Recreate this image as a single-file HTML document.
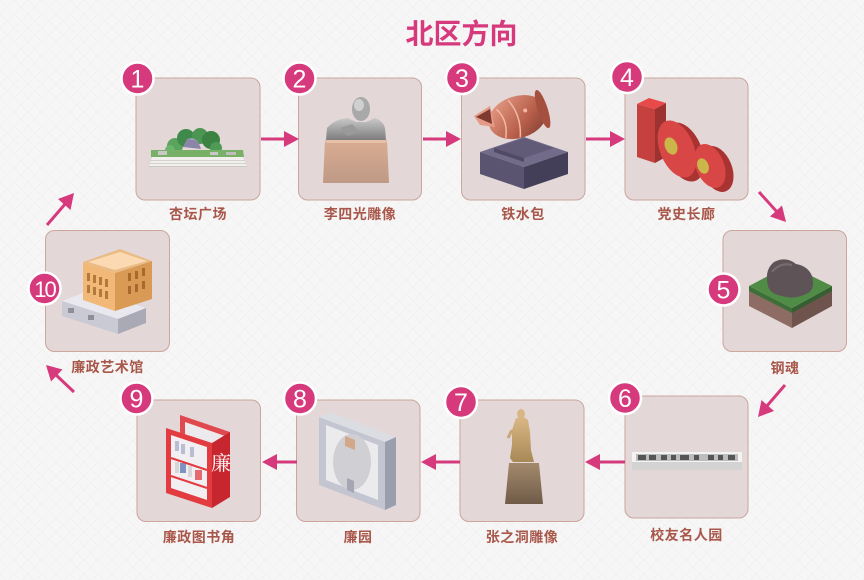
<!DOCTYPE html>
<html><head><meta charset="utf-8"><style>
html,body{margin:0;padding:0;background:#f7f6f6;}
svg{display:block;}
.lbl{font-family:"Liberation Sans","Noto Sans CJK SC",sans-serif;font-weight:bold;font-size:14px;fill:#a8574a;letter-spacing:0.5px;}
.num{font-family:"Liberation Sans",sans-serif;font-size:25px;fill:#fff;}
</style></head><body>
<svg width="864" height="580" viewBox="0 0 864 580" xmlns="http://www.w3.org/2000/svg">
<defs>
<pattern id="bgp" width="14" height="14" patternUnits="userSpaceOnUse"><path d="M0,0 L14,14 M14,0 L0,14" stroke="#efeded" stroke-width="0.6"/></pattern>
<linearGradient id="ped" x1="0" y1="0" x2="0" y2="1"><stop offset="0" stop-color="#d9ac92"/><stop offset="1" stop-color="#bf9a86"/></linearGradient>
<linearGradient id="bust" x1="0" y1="0" x2="0" y2="1"><stop offset="0" stop-color="#c9c9c9"/><stop offset="1" stop-color="#7d7d7d"/></linearGradient>
<linearGradient id="cop" x1="0" y1="0" x2="1" y2="1"><stop offset="0" stop-color="#eaa38c"/><stop offset="0.6" stop-color="#b8604c"/><stop offset="1" stop-color="#7c3a30"/></linearGradient>
<linearGradient id="brz" x1="0" y1="0" x2="0" y2="1"><stop offset="0" stop-color="#d9b884"/><stop offset="1" stop-color="#a98858"/></linearGradient>
<linearGradient id="ped7" x1="0" y1="0" x2="0" y2="1"><stop offset="0" stop-color="#a48a6c"/><stop offset="1" stop-color="#6f5b48"/></linearGradient>
</defs>
<rect width="864" height="580" fill="#f7f6f6"/>
<rect width="864" height="580" fill="url(#bgp)"/>

<text x="461.5" y="34" text-anchor="middle" dominant-baseline="central" font-family="'Liberation Sans','Noto Sans CJK SC',sans-serif" font-weight="bold" font-size="28" fill="#d6397c">北区方向</text>

<!-- cards -->
<g fill="#e3d7d7" stroke="#caa69d" stroke-width="1">
<rect x="136" y="78" width="124" height="122" rx="9"/>
<rect x="298.5" y="78" width="123" height="122" rx="9"/>
<rect x="461.5" y="78" width="123.5" height="122" rx="9"/>
<rect x="625" y="78" width="123" height="122" rx="9"/>
<rect x="723" y="230.5" width="123.5" height="121" rx="9"/>
<rect x="45.5" y="230.5" width="124" height="121" rx="9"/>
<rect x="137" y="400" width="123.5" height="121.5" rx="9"/>
<rect x="296.5" y="400" width="123.5" height="121.5" rx="9"/>
<rect x="460" y="400" width="124" height="121.5" rx="9"/>
<rect x="625" y="396" width="123" height="122" rx="9"/>
</g>

<!-- card1 杏坛广场 -->
<g>
<polygon points="152,157 243,157 247,167 149,167" fill="#f1f0ee"/>
<line x1="150" y1="160.5" x2="245" y2="160.5" stroke="#c9c8c3" stroke-width="0.8"/>
<line x1="149.5" y1="163.5" x2="246" y2="163.5" stroke="#c9c8c3" stroke-width="0.8"/>
<line x1="149" y1="166.5" x2="247" y2="166.5" stroke="#bdbcb7" stroke-width="0.8"/>
<circle cx="175" cy="146" r="8" fill="#5aa45e"/>
<circle cx="186" cy="138" r="9" fill="#3f8a4a"/>
<circle cx="200" cy="136" r="8" fill="#4c9552"/>
<circle cx="211" cy="140" r="9" fill="#3b8243"/>
<circle cx="216" cy="148" r="6" fill="#4f9a55"/>
<circle cx="170" cy="150" r="5" fill="#6db56b"/>
<polygon points="183,147 187,139 198,141 201,149" fill="#8b86a8"/>
<polygon points="187,139 192,138 198,141" fill="#a7a2c0"/>
<polygon points="151,150 243,150 244,157 151,157" fill="#78b068"/>
<rect x="158" y="151" width="9" height="4" fill="#c8c8c8"/>
<rect x="210" y="152" width="8" height="3" fill="#c8c8c8"/>
<rect x="226" y="152" width="10" height="3" fill="#bdbdbd"/>
</g>

<!-- card2 李四光雕像 -->
<g>
<polygon points="325,140 387,140 389,183 323,183" fill="url(#ped)"/>
<polygon points="325,140 387,140 386,143 326,143" fill="#e6c0a8"/>
<path d="M326,140 L327,128 Q335,119 348,118 L356,122 L366,122 L375,118 Q383,121 385,128 L386,140 Z" fill="url(#bust)"/>
<ellipse cx="361" cy="109" rx="9" ry="12" fill="#a9a9a9"/>
<ellipse cx="359" cy="105" rx="5" ry="6" fill="#d0d0d0"/>
<path d="M340,128 L352,124 L360,132 L348,136 Z" fill="#9a9a9a"/>
</g>

<!-- card3 铁水包 -->
<g>
<polygon points="480,152 524,137 568,152 524,167" fill="#726c8a"/>
<polygon points="480,152 524,167 524,189 480,174" fill="#5a5470"/>
<polygon points="524,167 568,152 568,174 524,189" fill="#433f58"/>
<polygon points="494,148 524,138 554,148 524,158" fill="#615b78"/>
<polygon points="494,148 524,158 524,162 494,152" fill="#504a66"/>
<g transform="rotate(-18 515 118)">
<ellipse cx="518" cy="118" rx="30" ry="21" fill="url(#cop)"/>
<ellipse cx="544" cy="118" rx="5" ry="20" fill="#a5503f"/>
<path d="M500,104 Q508,118 500,134" stroke="#f2b8a4" stroke-width="1.5" fill="none"/>
<path d="M514,99 Q522,118 514,138" stroke="#f2b8a4" stroke-width="1.5" fill="none"/>
<circle cx="527" cy="114" r="2" fill="#f2b8a4"/>
</g>
<polygon points="474,116 490,106 495,127 480,125" fill="#e59a86"/>
<polygon points="476,117 490,109 492,124" fill="#7e3a30"/>
</g>

<!-- card4 党史长廊 100 -->
<g>
<polygon points="637,104 649,98 666,103 655,109" fill="#e84a4a"/>
<polygon points="637,104 655,109 655,163 637,157" fill="#c4413f"/>
<polygon points="655,109 666,103 666,157 655,163" fill="#9d3331"/>
<ellipse cx="684" cy="152" rx="18" ry="31" transform="rotate(-22 684 152)" fill="#a93331"/>
<ellipse cx="677" cy="149" rx="17" ry="30" transform="rotate(-22 677 149)" fill="#d84746"/>
<ellipse cx="671" cy="146" rx="6" ry="9" transform="rotate(-22 671 146)" fill="#cbb64a"/>
<ellipse cx="717" cy="169" rx="15" ry="24" transform="rotate(-22 717 169)" fill="#a93331"/>
<ellipse cx="710" cy="166" rx="14" ry="23" transform="rotate(-22 710 166)" fill="#d84746"/>
<ellipse cx="703" cy="166" rx="5.5" ry="8" transform="rotate(-22 703 166)" fill="#cbb64a"/>
</g>

<!-- card5 钢魂 -->
<g>
<polygon points="749,290 792,312 792,328 749,306" fill="#8c6c63"/>
<polygon points="792,312 832,290 832,306 792,328" fill="#6f534d"/>
<polygon points="749,286 792,308 792,313 749,291" fill="#3f6f38"/>
<polygon points="792,308 832,286 832,291 792,313" fill="#355f30"/>
<polygon points="749,286 789,265 832,286 792,308" fill="#518c47"/>
<path d="M768,286 Q764,270 774,262 Q786,256 796,264 Q808,266 812,276 Q816,290 806,294 Q794,300 782,296 Q770,294 768,286 Z" fill="#5e5458"/>
<path d="M772,272 Q780,262 792,265" stroke="#776c70" stroke-width="2" fill="none"/>
</g>

<!-- card10 building -->
<g>
<polygon points="62,301 90,290 146,308 118,319" fill="#e8e8ee"/>
<polygon points="62,301 118,319 118,334 62,316" fill="#c9cad3"/>
<polygon points="118,319 146,308 146,323 118,334" fill="#a9aab6"/>
<rect x="68" y="308" width="6" height="5" fill="#8e8f9a"/>
<rect x="88" y="315" width="6" height="5" fill="#8e8f9a"/>
<polygon points="83,262 115,273 115,311 83,300" fill="#f1b877"/>
<polygon points="115,273 152,261 152,299 115,311" fill="#d99a55"/>
<polygon points="83,262 120,249 152,261 115,273" fill="#e9bb85"/>
<polygon points="88,262 120,252 147,261 115,270" fill="#fbd9b2"/>
<g fill="#b47a3c">
<rect x="87" y="273" width="3" height="8"/><rect x="93" y="275" width="3" height="8"/><rect x="99" y="277" width="3" height="8"/><rect x="105" y="279" width="3" height="8"/>
<rect x="87" y="285" width="3" height="8"/><rect x="93" y="287" width="3" height="8"/><rect x="99" y="289" width="3" height="8"/><rect x="105" y="291" width="3" height="8"/>
</g>
<g fill="#a86a2c">
<rect x="128" y="273" width="3" height="8"/><rect x="135" y="271" width="3" height="8"/><rect x="142" y="268" width="3" height="8"/>
<rect x="128" y="286" width="3" height="8"/><rect x="135" y="284" width="3" height="8"/><rect x="142" y="281" width="3" height="8"/>
</g>
</g>

<!-- card9 bookshelf -->
<g>
<polygon points="180,415 230,432 230,497 180,480" fill="#e04a4e"/>
<polygon points="185,422 225,436 225,490 185,476" fill="#eceaec"/>
<polygon points="166,428 212,443 212,508 166,493" fill="#e23b40"/>
<polygon points="171,435 207,447 207,500 171,488" fill="#f1eff1"/>
<polygon points="212,443 230,432 230,497 212,508" fill="#c8262e"/>
<g fill="#b9bcd3"><rect x="175" y="441" width="4" height="10"/><rect x="181" y="444" width="4" height="10"/><rect x="190" y="447" width="4" height="10"/></g>
<g fill="#d6d6d6"><rect x="175" y="462" width="4" height="11"/><rect x="188" y="466" width="4" height="11"/></g>
<rect x="180" y="463" width="6" height="10" fill="#7f93c0"/>
<rect x="195" y="470" width="7" height="10" fill="#e26a70"/>
<line x1="171" y1="458" x2="207" y2="470" stroke="#e23b40" stroke-width="2"/>
<line x1="171" y1="476" x2="207" y2="488" stroke="#e23b40" stroke-width="2"/>
<text x="221" y="470" text-anchor="middle" font-family="'Noto Serif CJK SC','Noto Sans CJK SC',serif" font-size="20" fill="#ffffff">廉</text>
</g>

<!-- card8 廉园 -->
<g>
<polygon points="319,417 330,412 396,437 385,442" fill="#dcdde3"/>
<polygon points="385,442 396,437 396,505 385,510" fill="#9b9eac"/>
<polygon points="319,417 385,442 385,510 319,485" fill="#c3c6d1"/>
<polygon points="326,425 378,445 378,500 326,480" fill="#ebebed"/>
<ellipse cx="352" cy="462" rx="19" ry="28" fill="#cfcfd4"/>
<polygon points="345,436 355,440 355,450 345,446" fill="#d3a787"/>
<polygon points="347,478 354,481 354,493 347,490" fill="#a4a7b3"/>
</g>

<!-- card7 statue -->
<g>
<polygon points="509,463 539,463 543,504 505,504" fill="url(#ped7)"/>
<path d="M516,418 L512,430 L512,445 L510,458 L513,462 L534,462 L531,450 L530,432 L528,420 Q524,416 519,418 Z" fill="url(#brz)"/>
<ellipse cx="521" cy="414" rx="4" ry="5" fill="#d6b785"/>
<path d="M512,430 L508,438" stroke="#c9a774" stroke-width="3"/>
</g>

<!-- card6 slab -->
<g>
<polygon points="632,452 742,452 742,462 632,462" fill="#f3f3f3"/>
<polygon points="632,462 742,462 742,470 632,470" fill="#d3d3d3"/>
<rect x="636" y="454" width="102" height="7" fill="#bdbdbd"/>
<g fill="#555">
<rect x="638" y="455" width="8" height="5"/><rect x="649" y="455" width="7" height="5"/><rect x="661" y="455" width="6" height="5"/>
<rect x="671" y="455" width="5" height="5"/><rect x="680" y="455" width="9" height="5"/><rect x="694" y="455" width="5" height="5"/>
<rect x="708" y="455" width="6" height="5"/><rect x="718" y="455" width="5" height="5"/><rect x="728" y="455" width="7" height="5"/>
</g>
</g>

<!-- arrows -->
<g stroke="#d6397c" stroke-width="3" fill="none">
<line x1="261" y1="139" x2="287" y2="139"/>
<line x1="423" y1="139" x2="449" y2="139"/>
<line x1="586" y1="139" x2="613" y2="139"/>
<line x1="625" y1="462" x2="597" y2="462"/>
<line x1="460" y1="462" x2="433" y2="462"/>
<line x1="297" y1="462" x2="274" y2="462"/>
<line x1="759" y1="192" x2="778" y2="213"/>
<line x1="785" y1="385" x2="766" y2="407"/>
<line x1="74" y1="392" x2="55" y2="374"/>
<line x1="47" y1="225" x2="66" y2="203"/>
</g>
<g fill="#d6397c">
<polygon points="284,131 299,139 284,147"/>
<polygon points="446,131 461,139 446,147"/>
<polygon points="610,131 625,139 610,147"/>
<polygon points="600,454 585,462 600,470"/>
<polygon points="436,454 421,462 436,470"/>
<polygon points="277,454 262,462 277,470"/>
<polygon points="770,216.5 786,222 782,205.5"/>
<polygon points="761.5,400 758,417 774,411"/>
<polygon points="62.5,369.5 46,365 51,381.5"/>
<polygon points="70.5,210 74,193 58,199"/>
</g>

<!-- number circles -->
<g fill="#d6397c" stroke="#ffffff" stroke-width="2.5">
<circle cx="137.5" cy="78.5" r="16"/>
<circle cx="299.5" cy="78.5" r="16"/>
<circle cx="462" cy="78" r="16"/>
<circle cx="627" cy="77" r="16"/>
<circle cx="723.5" cy="289.5" r="16"/>
<circle cx="44.5" cy="288.5" r="16"/>
<circle cx="136.5" cy="398.5" r="16"/>
<circle cx="300" cy="398.5" r="16"/>
<circle cx="461" cy="402" r="16"/>
<circle cx="625" cy="398" r="16"/>
</g>
<g class="num" text-anchor="middle">
<text x="137.5" y="87.5">1</text>
<text x="299.5" y="87.5">2</text>
<text x="462" y="87">3</text>
<text x="627" y="86">4</text>
<text x="723.5" y="298.5">5</text>
<text x="44.5" y="297" font-size="22" letter-spacing="-2">10</text>
<text x="136.5" y="407.5">9</text>
<text x="300" y="407.5">8</text>
<text x="461" y="411">7</text>
<text x="625" y="407">6</text>
</g>

<!-- labels -->
<g class="lbl" text-anchor="middle">
<text x="198" y="219">杏坛广场</text>
<text x="360" y="219">李四光雕像</text>
<text x="523" y="219">铁水包</text>
<text x="686.5" y="219">党史长廊</text>
<text x="785" y="373">钢魂</text>
<text x="107.5" y="372">廉政艺术馆</text>
<text x="199" y="542">廉政图书角</text>
<text x="358" y="542">廉园</text>
<text x="522" y="542">张之洞雕像</text>
<text x="686.5" y="540">校友名人园</text>
</g>
</svg>
</body></html>
